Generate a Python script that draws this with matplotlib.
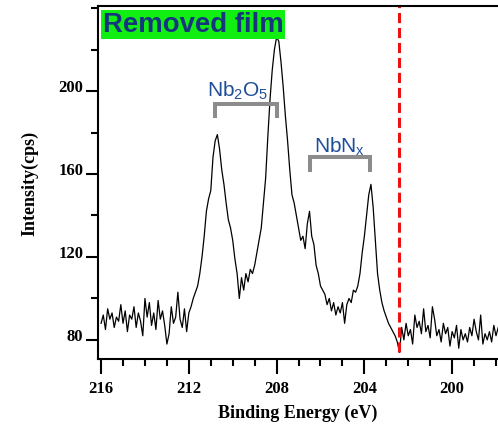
import numpy as np
import matplotlib
matplotlib.use("Agg")
import matplotlib.pyplot as plt
from matplotlib.ticker import MultipleLocator

plt.rcParams["mathtext.fontset"] = "custom"
plt.rcParams["mathtext.rm"] = "Liberation Sans"
plt.rcParams["mathtext.it"] = "Liberation Sans:italic"

# Nb 3d XPS spectrum, binding energy from 216.0 down to 197.9 eV in 0.1 eV steps
energy = np.round(np.arange(216.0, 197.85, -0.1), 1)
counts = [
    # 216.0 - 211.6
    88, 92, 85, 95, 90, 93, 86, 91, 89, 97,
    88, 94, 84, 92, 90, 96, 86, 93, 89, 82,
    100, 91, 98, 87, 93, 85, 99, 90, 94, 87,
    78, 83, 96, 88, 91, 103, 90, 86, 95, 84,
    93, 96, 100, 103, 106,
    # 211.5 - 207.0
    112, 120, 130, 142, 148, 152, 168, 176, 179, 172,
    162, 155, 146, 138, 134, 128, 119, 112, 100, 110,
    104, 112, 108, 114, 112, 116, 122, 128, 134, 146,
    158, 178, 196, 210, 220, 226, 224, 214, 202, 188,
    176, 162, 150, 146, 140, 134,
    # 206.9 - 202.4
    128, 130, 124, 136, 142, 130, 126, 116, 112, 106,
    104, 102, 97, 100, 94, 98, 92, 96, 93, 98,
    88, 97, 100, 98, 104, 103, 106, 112, 122, 130,
    140, 150, 155, 144, 128, 112, 104, 98, 94, 91,
    88, 86, 84, 82, 79, 74,
    # 202.3 - 197.9
    86, 80, 88, 82, 85, 78, 92, 86, 89, 83,
    95, 84, 87, 81, 96, 90, 82, 85, 79, 88,
    83, 86, 77, 84, 81, 87, 76, 85, 80, 83,
    79, 86, 82, 90, 84, 80, 92, 78, 83, 80,
    84, 79, 87, 82, 86,
]

x_ticks = [216, 212, 208, 204, 200]
y_ticks = [80, 120, 160, 200]

# Peak assignment brackets: (left edge, right edge, top, leg bottom)
nb2o5_bracket = (210.8, 207.98, 193.7, 187.0)
nbnx_bracket = (206.48, 203.74, 168.2, 161.0)
fermi_ref = 202.42

fig = plt.figure(figsize=(4.98, 4.35), dpi=100)
ax = fig.add_axes([98 / 498, 75 / 435, 400 / 498, 353 / 435])

ax.plot(energy, counts, color="black", lw=0.9)

ax.set_xlim(216.14, 197.91)
ax.set_ylim(70.8, 241)

ax.xaxis.set_major_locator(MultipleLocator(4))
ax.xaxis.set_minor_locator(MultipleLocator(1))
ax.set_xticks(x_ticks)
ax.set_yticks(y_ticks)
ax.yaxis.set_minor_locator(MultipleLocator(20))

serif = "Liberation Serif"
ax.tick_params(axis="both", which="both", direction="out", width=1.5, color="black")
ax.tick_params(axis="x", which="major", length=10.8, pad=4)
ax.tick_params(axis="x", which="minor", length=5)
ax.tick_params(axis="y", which="major", length=8.6, pad=2)
ax.tick_params(axis="y", which="minor", length=5)
for lab in ax.get_xticklabels():
    lab.set_fontfamily(serif)
    lab.set_fontweight("bold")
    lab.set_fontsize(12)
for lab in ax.get_yticklabels():
    lab.set_fontfamily(serif)
    lab.set_fontweight("bold")
    lab.set_fontsize(12)
    lab.set_verticalalignment("baseline")

for side in ("left", "bottom", "top"):
    ax.spines[side].set_linewidth(1.5)
ax.spines["right"].set_visible(False)

ax.set_xlabel("Binding Energy (eV)", family=serif, fontweight="bold", fontsize=13, labelpad=6)
ax.set_ylabel("Intensity(cps)", family=serif, fontweight="bold", fontsize=13, labelpad=14)

# reference line
ax.vlines(fermi_ref, 74, 241, colors="#ee1111", lw=2.2, linestyles=(0, (3.3, 1.6)))

# bracket annotations
bracket_color = "#8c8c8c"
for (x0, x1, top, bot) in (nb2o5_bracket, nbnx_bracket):
    ax.plot([x0, x0, x1, x1], [bot, top, top, bot], color=bracket_color, lw=2.9,
            solid_joinstyle="miter", solid_capstyle="butt")

label_color = "#1f4e99"
ax.text(209.76, 197.6, r"Nb$_2$O$_5$", family="Liberation Sans", fontsize=15,
        color=label_color, ha="center", va="baseline")
ax.text(205.11, 170.6, r"NbN$_\mathrm{x}$", family="Liberation Sans", fontsize=15,
        color=label_color, ha="center", va="baseline")

ax.text(0.012, 0.948, "Removed film", transform=ax.transAxes, family="Liberation Sans",
        fontweight="bold", fontsize=19.8, color="#17357f", ha="left", va="center",
        bbox=dict(boxstyle="square,pad=0.05", fc="#11ee11", ec="none"))

fig.savefig("out.png", dpi=100)
